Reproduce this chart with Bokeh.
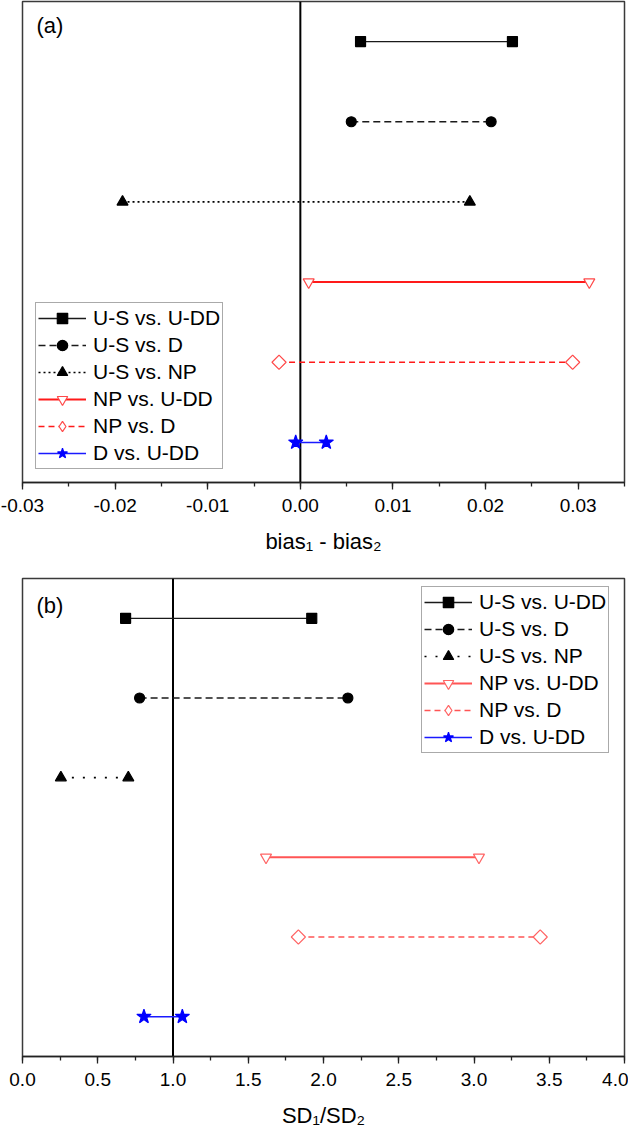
import math
from bokeh.plotting import figure
from bokeh.models import (Range1d, SingleIntervalTicker, NumeralTickFormatter, Span,
                          Legend, LegendItem, Label)
from bokeh.layouts import column
from bokeh.embed import file_html
from bokeh.resources import INLINE

# ---------------- data ----------------
categories = ["U-S vs. U-DD", "U-S vs. D", "U-S vs. NP", "NP vs. U-DD", "NP vs. D", "D vs. U-DD"]
rows = [1, 2, 3, 4, 5, 6]
bias_low = [0.0065, 0.0055, -0.0192, 0.0009, -0.0023, -0.0005]
bias_high = [0.0229, 0.0206, 0.0183, 0.0312, 0.0294, 0.0028]
sd_low = [0.685, 0.778, 0.255, 1.618, 1.833, 0.807]
sd_high = [1.922, 2.162, 0.703, 3.033, 3.440, 1.062]

FONT = "Liberation Sans"


def styles_for(panel):
    red_line = "#FF1A1A" if panel == "a" else "#FF5555"
    red_mk = "#FF4A4A" if panel == "a" else "#FF6464"
    dot = "2 3" if panel == "a" else "2 9"
    return [
        dict(lc="#1a1a1a", lw=1.3, dash="solid", marker="square", size=10, fill="black", mlc="black", angle=0),
        dict(lc="#1a1a1a", lw=1.3, dash="7 4", marker="circle", size=10, fill="black", mlc="black", angle=0),
        dict(lc="#000000", lw=1.6, dash=dot, marker="triangle", size=11, fill="black", mlc="black", angle=0),
        dict(lc=red_line, lw=2, dash="solid", marker="inverted_triangle", size=11, fill="white", mlc=red_mk, angle=0),
        dict(lc=red_line, lw=1.6, dash="6 4", marker="square", size=10, fill="white", mlc=red_mk, angle=math.pi / 4),
        dict(lc="#1a1aff", lw=1.5, dash="solid", marker="star", size=15, fill="#0000FF", mlc="#0000FF", angle=0),
    ]


def make_panel(panel, low, high, xr, interval, fmt, xlabel, tag, legend_loc, ref_x,
               top_border, bottom_border, height, tag_offset):
    p = figure(width=628, height=height, x_range=Range1d(*xr), y_range=Range1d(6.5, 0.5),
               output_backend="svg", toolbar_location=None,
               min_border_left=22, min_border_right=4,
               min_border_top=top_border, min_border_bottom=bottom_border)
    p.grid.visible = False
    p.yaxis.visible = False
    p.background_fill_color = "white"
    p.border_fill_color = "white"
    p.outline_line_color = "#3a3a3a"
    p.outline_line_width = 1.5

    ax = p.xaxis[0]
    ax.ticker = SingleIntervalTicker(interval=interval, num_minor_ticks=2)
    ax.formatter = NumeralTickFormatter(format=fmt)
    ax.axis_line_color = "#222222"
    ax.axis_line_width = 1.5
    ax.major_tick_in = 0
    ax.major_tick_out = 7
    ax.minor_tick_in = 0
    ax.minor_tick_out = 4
    ax.major_tick_line_color = "#222222"
    ax.minor_tick_line_color = "#222222"
    ax.major_tick_line_width = 1.3
    ax.minor_tick_line_width = 1.3
    ax.major_label_text_font = FONT
    ax.major_label_text_font_size = "19px"
    ax.major_label_text_color = "black"
    ax.major_label_standoff = 9
    ax.axis_label = xlabel
    ax.axis_label_text_font = FONT
    ax.axis_label_text_font_size = "22px"
    ax.axis_label_text_font_style = "normal"
    ax.axis_label_text_color = "black"
    ax.axis_label_standoff = 14

    p.add_layout(Span(location=ref_x, dimension="height", line_color="black",
                      line_width=2, level="underlay"))

    items = []
    for i, st in enumerate(styles_for(panel)):
        xs = [low[i], high[i]]
        ys = [rows[i], rows[i]]
        rl = p.line(xs, ys, line_color=st["lc"], line_width=st["lw"], line_dash=st["dash"])
        rend = [rl]
        if st["angle"]:
            # diamond used for the legend swatch, covered by the rotated square in the plot
            rd = p.scatter(xs, ys, marker="diamond", size=13, fill_color=st["fill"],
                           line_color=st["mlc"], line_width=1.2)
            rend.append(rd)
        rs = p.scatter(xs, ys, marker=st["marker"], size=st["size"], fill_color=st["fill"],
                       line_color=st["mlc"], line_width=1.2, angle=st["angle"])
        if not st["angle"]:
            rend.append(rs)
        items.append(LegendItem(label=categories[i], renderers=rend))

    leg = Legend(items=items, location=legend_loc, margin=0, padding=2, spacing=1,
                 glyph_width=48, glyph_height=26, label_height=26, label_standoff=7,
                 label_text_font=FONT, label_text_font_size="21px", label_text_color="black",
                 border_line_color="#555555", border_line_width=1,
                 background_fill_color="white", background_fill_alpha=1.0)
    p.add_layout(leg)

    p.add_layout(Label(x=xr[0], y=0.5, x_offset=14, y_offset=-tag_offset, text=tag,
                       text_font=FONT, text_font_size="22px", text_baseline="middle",
                       text_color="black"))
    return p


p1 = make_panel("a", bias_low, bias_high, (-0.03, 0.035), 0.01, "0.00",
                "bias\u2081 - bias\u2082", "(a)", (13, 13), 0.0,
                top_border=1, bottom_border=80, height=562, tag_offset=24)
p2 = make_panel("b", sd_low, sd_high, (0.0, 4.0), 0.5, "0.0",
                "SD\u2081/SD\u2082", "(b)", (399, 303), 1.0,
                top_border=16, bottom_border=72, height=568, tag_offset=27)

layout = column(p1, p2)

with open("out.html", "w") as f:
    f.write(file_html(layout, INLINE))
